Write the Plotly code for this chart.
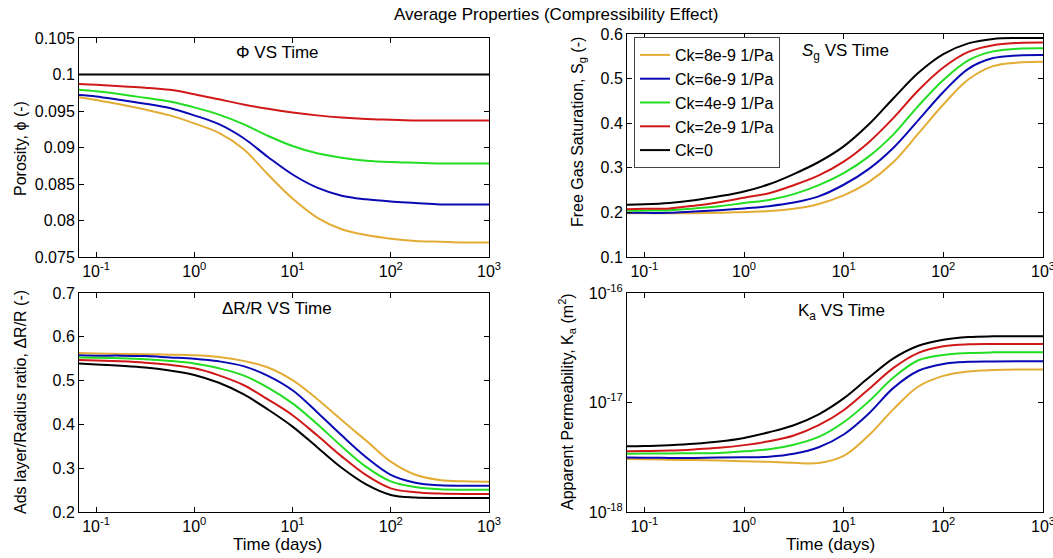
import plotly.graph_objects as go

W, H = 1053, 558

# ---------------- data ----------------
time_days = [0.067, 0.1, 0.178, 0.316, 0.562, 1, 1.78, 3.16, 5.62, 10, 17.8, 31.6, 56.2, 100, 178, 316, 562, 1000]

series_names = ["Ck=8e-9 1/Pa", "Ck=6e-9 1/Pa", "Ck=4e-9 1/Pa", "Ck=2e-9 1/Pa", "Ck=0"]
series_colors = ["#E3AC35", "#0A0AB4", "#22DD22", "#D01818", "#000000"]

phi_ck8 = [0.0969, 0.0965, 0.0959, 0.0952, 0.0944, 0.0933, 0.0920, 0.0898, 0.0863, 0.0830, 0.0804, 0.0788, 0.0780, 0.0775, 0.0772, 0.0771, 0.0770, 0.0770]
phi_ck6 = [0.0972, 0.0970, 0.0965, 0.0960, 0.0954, 0.0944, 0.0932, 0.0913, 0.0887, 0.0863, 0.0845, 0.0834, 0.0829, 0.0826, 0.0824, 0.0822, 0.0822, 0.0822]
phi_ck4 = [0.0979, 0.0977, 0.0973, 0.0968, 0.0963, 0.0955, 0.0945, 0.0932, 0.0916, 0.0902, 0.0892, 0.0886, 0.0882, 0.0880, 0.0879, 0.0878, 0.0878, 0.0878]
phi_ck2 = [0.0987, 0.0986, 0.0984, 0.0982, 0.0979, 0.0973, 0.0966, 0.0959, 0.0953, 0.0948, 0.0944, 0.0941, 0.0939, 0.0938, 0.0937, 0.0937, 0.0937, 0.0937]
phi_ck0 = [0.1, 0.1, 0.1, 0.1, 0.1, 0.1, 0.1, 0.1, 0.1, 0.1, 0.1, 0.1, 0.1, 0.1, 0.1, 0.1, 0.1, 0.1]

sg_ck8 = [0.198, 0.198, 0.198, 0.198, 0.199, 0.201, 0.203, 0.208, 0.219, 0.238, 0.268, 0.313, 0.377, 0.442, 0.498, 0.528, 0.536, 0.538]
sg_ck6 = [0.199, 0.199, 0.199, 0.202, 0.205, 0.209, 0.214, 0.222, 0.236, 0.262, 0.297, 0.345, 0.407, 0.470, 0.522, 0.546, 0.552, 0.553]
sg_ck4 = [0.204, 0.204, 0.205, 0.209, 0.214, 0.221, 0.228, 0.241, 0.261, 0.288, 0.325, 0.375, 0.439, 0.497, 0.541, 0.561, 0.567, 0.568]
sg_ck2 = [0.207, 0.208, 0.209, 0.215, 0.223, 0.233, 0.243, 0.261, 0.283, 0.314, 0.357, 0.412, 0.474, 0.525, 0.560, 0.575, 0.580, 0.581]
sg_ck0 = [0.217, 0.218, 0.221, 0.227, 0.236, 0.247, 0.263, 0.286, 0.313, 0.348, 0.397, 0.456, 0.513, 0.555, 0.579, 0.589, 0.591, 0.591]

dr_ck8 = [0.563, 0.562, 0.561, 0.560, 0.559, 0.558, 0.554, 0.545, 0.530, 0.501, 0.458, 0.410, 0.363, 0.315, 0.285, 0.273, 0.270, 0.269]
dr_ck6 = [0.558, 0.557, 0.557, 0.556, 0.553, 0.550, 0.544, 0.533, 0.511, 0.478, 0.428, 0.375, 0.325, 0.285, 0.267, 0.261, 0.260, 0.260]
dr_ck4 = [0.553, 0.552, 0.551, 0.549, 0.545, 0.539, 0.528, 0.512, 0.484, 0.448, 0.401, 0.350, 0.303, 0.270, 0.257, 0.252, 0.251, 0.251]
dr_ck2 = [0.547, 0.546, 0.544, 0.541, 0.536, 0.528, 0.512, 0.490, 0.457, 0.421, 0.375, 0.327, 0.284, 0.254, 0.245, 0.242, 0.241, 0.241]
dr_ck0 = [0.539, 0.537, 0.534, 0.530, 0.523, 0.513, 0.495, 0.469, 0.434, 0.395, 0.348, 0.301, 0.263, 0.239, 0.233, 0.232, 0.232, 0.232]

ka_ck8 = [3.05e-18, 3.03e-18, 3.00e-18, 2.98e-18, 2.95e-18, 2.91e-18, 2.87e-18, 2.81e-18, 2.80e-18, 3.25e-18, 5.0e-18, 8.7e-18, 1.40e-17, 1.75e-17, 1.92e-17, 1.98e-17, 2.00e-17, 2.00e-17]
ka_ck6 = [3.15e-18, 3.13e-18, 3.12e-18, 3.12e-18, 3.14e-18, 3.16e-18, 3.20e-18, 3.40e-18, 3.90e-18, 5.1e-18, 7.9e-18, 1.36e-17, 1.95e-17, 2.25e-17, 2.35e-17, 2.37e-17, 2.38e-17, 2.38e-17]
ka_ck4 = [3.41e-18, 3.42e-18, 3.43e-18, 3.44e-18, 3.46e-18, 3.58e-18, 3.74e-18, 4.12e-18, 4.85e-18, 6.6e-18, 1.02e-17, 1.69e-17, 2.43e-17, 2.72e-17, 2.83e-17, 2.87e-17, 2.88e-17, 2.88e-17]
ka_ck2 = [3.58e-18, 3.60e-18, 3.64e-18, 3.73e-18, 3.86e-18, 4.08e-18, 4.42e-18, 5.0e-18, 6.2e-18, 8.5e-18, 1.32e-17, 2.07e-17, 2.84e-17, 3.26e-17, 3.40e-17, 3.42e-17, 3.43e-17, 3.43e-17]
ka_ck0 = [3.98e-18, 4.00e-18, 4.08e-18, 4.20e-18, 4.40e-18, 4.75e-18, 5.35e-18, 6.2e-18, 7.8e-18, 1.09e-17, 1.68e-17, 2.53e-17, 3.30e-17, 3.74e-17, 3.96e-17, 4.02e-17, 4.03e-17, 4.03e-17]

x_tickvals = [0.1, 1, 10, 100, 1000]
x_ticktext = ["10<sup>-1</sup>", "10<sup>0</sup>", "10<sup>1</sup>", "10<sup>2</sup>", "10<sup>3</sup>"]
phi_ticks = [0.075, 0.08, 0.085, 0.09, 0.095, 0.1, 0.105]
phi_ticktext = ["0.075", "0.08", "0.085", "0.09", "0.095", "0.1", "0.105"]
sg_ticks = [0.1, 0.2, 0.3, 0.4, 0.5, 0.6]
dr_ticks = [0.2, 0.3, 0.4, 0.5, 0.6, 0.7]
ka_ticks = [1e-18, 1e-17, 1e-16]
ka_ticktext = ["10<sup>-18</sup>", "10<sup>-17</sup>", "10<sup>-16</sup>"]

panels = [
    ([phi_ck8, phi_ck6, phi_ck4, phi_ck2, phi_ck0], "x", "y"),
    ([sg_ck8, sg_ck6, sg_ck4, sg_ck2, sg_ck0], "x2", "y2"),
    ([dr_ck8, dr_ck6, dr_ck4, dr_ck2, dr_ck0], "x3", "y3"),
    ([ka_ck8, ka_ck6, ka_ck4, ka_ck2, ka_ck0], "x4", "y4"),
]

FONT = "Liberation Sans, Arial, sans-serif"

fig = go.Figure()
for pi, (ys, xa, ya) in enumerate(panels):
    for si, yv in enumerate(ys):
        fig.add_trace(go.Scatter(
            x=time_days, y=yv, mode="lines", xaxis=xa, yaxis=ya,
            name=series_names[si],
            line=dict(color=series_colors[si], width=2, shape="spline", smoothing=1.0),
            showlegend=(pi == 1), legendrank=si,
        ))

def px_x(p):
    return p / W

def px_y(p):
    return 1 - p / H

minor_x = [m * 10 ** k for k in range(-2, 3) for m in range(2, 10)]
minor_ka = [m * 10 ** k for k in (-18, -17) for m in range(2, 10)]
X_RANGE = [-1.174, 3]

COMMON = dict(
    ticks="inside", tickcolor="black", mirror="ticks", automargin=False,
    showline=True, linecolor="black", linewidth=1, showgrid=False, zeroline=False,
)

def xaxis_cfg(x0, x1, anchor):
    return dict(
        domain=[px_x(x0), px_x(x1)], anchor=anchor, type="log",
        range=X_RANGE, tickmode="array", tickvals=x_tickvals, ticktext=x_ticktext,
        ticklen=5, ticklabeloverflow="allow",
        tickfont=dict(family=FONT, size=16, color="black"), **COMMON,
    )

def xminor_cfg(over, anchor):
    return dict(
        overlaying=over, anchor=anchor, type="log", range=X_RANGE, side="bottom",
        tickmode="array", tickvals=minor_x, showticklabels=False, ticklen=3, **COMMON,
    )

def yaxis_cfg(y0, y1, anchor, rng, tv, tt, typ="linear"):
    return dict(
        domain=[px_y(y1), px_y(y0)], anchor=anchor, type=typ, range=rng,
        tickmode="array", tickvals=tv, ticktext=tt, ticklen=5, ticklabeloverflow="allow",
        tickfont=dict(family=FONT, size=16, color="black"), **COMMON,
    )

L1, R1 = 79, 489
L2, R2 = 627, 1043
T1a, T1b, B1 = 38, 34, 257
T2, B2 = 293, 512

fig.update_layout(
    width=W, height=H, margin=dict(l=0, r=0, t=0, b=0, autoexpand=False),
    paper_bgcolor="white", plot_bgcolor="white",
    font=dict(family=FONT, size=16, color="black"),
    xaxis=xaxis_cfg(L1, R1, "y"),
    yaxis=yaxis_cfg(T1a, B1, "x", [0.075, 0.105], phi_ticks, phi_ticktext),
    xaxis2=xaxis_cfg(L2, R2, "y2"),
    yaxis2=yaxis_cfg(T1b, B1, "x2", [0.1, 0.6], sg_ticks, [str(v) for v in sg_ticks]),
    xaxis3=xaxis_cfg(L1, R1, "y3"),
    yaxis3=yaxis_cfg(T2, B2, "x3", [0.2, 0.7], dr_ticks, [str(v) for v in dr_ticks]),
    xaxis4=xaxis_cfg(L2, R2, "y4"),
    yaxis4=yaxis_cfg(T2, B2, "x4", [-18, -16], ka_ticks, ka_ticktext, typ="log"),
    xaxis5=xminor_cfg("x", "y"),
    xaxis6=xminor_cfg("x2", "y2"),
    xaxis7=xminor_cfg("x3", "y3"),
    xaxis8=xminor_cfg("x4", "y4"),
    yaxis5=dict(
        overlaying="y4", anchor="x4", type="log", range=[-18, -16], side="left",
        tickmode="array", tickvals=minor_ka, showticklabels=False, ticklen=3, **COMMON,
    ),
    legend=dict(
        x=px_x(634), y=px_y(37), xanchor="left", yanchor="top",
        bgcolor="white", bordercolor="#444444", borderwidth=1,
        font=dict(family=FONT, size=16, color="black"),
        tracegroupgap=0,
    ),
)

def ann(text, x, y, size=17, angle=0):
    fig.add_annotation(
        text=text, x=px_x(x), y=px_y(y), xref="paper", yref="paper",
        showarrow=False, xanchor="center", yanchor="middle", textangle=angle,
        font=dict(family=FONT, size=size, color="black"),
    )

ann("Average Properties (Compressibility Effect)", 556, 15, 17)
ann("\u03a6 VS Time", 277, 53)
ann("<i>S</i><sub>g</sub> VS Time", 845, 52)
ann("\u0394R/R VS Time", 277, 308)
ann("K<sub>a</sub> VS Time", 841, 312)
ann("Porosity, \u03d5 (-)", 20, 149, 16, -90)
ann("Free Gas Saturation, S<sub>g</sub> (-)", 578, 132, 16, -90)
ann("Ads layer/Radius ratio, \u0394R/R (-)", 20, 402, 16, -90)
ann("Apparent Permeability, K<sub>a</sub> (m<sup>2</sup>)", 567, 402, 16, -90)
ann("Time (days)", 277, 544, 17)
ann("Time (days)", 830, 544, 17)

fig.write_html("out.html")
